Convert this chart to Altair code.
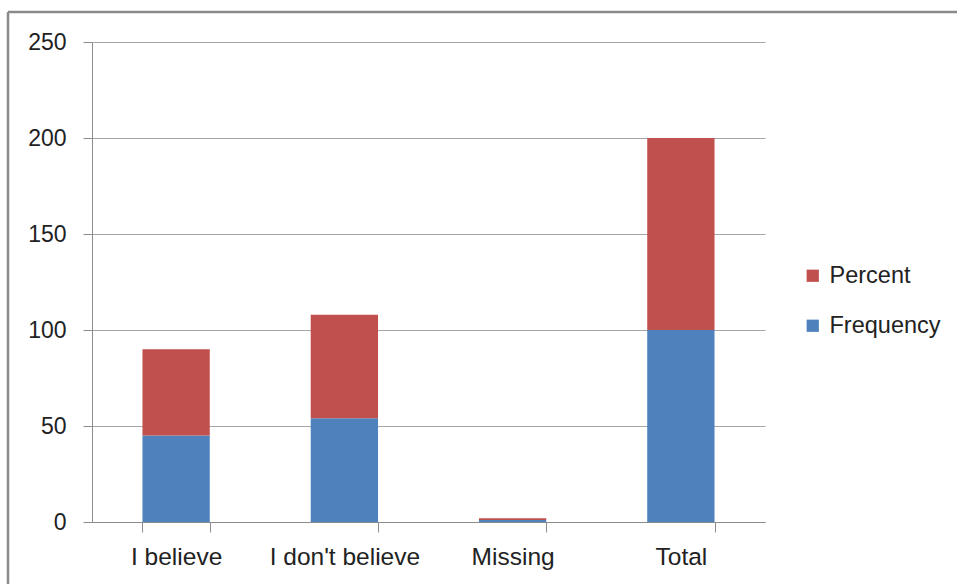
import altair as alt
import pandas as pd

categories = ["I believe", "I don't believe", "Missing", "Total"]
frequency = [45, 54, 1, 100]
percent = [45, 54, 1, 100]
series = ["Percent", "Frequency"]
series_colors = ["#C0504D", "#4F81BD"]
y_ticks = [0, 50, 100, 150, 200, 250]

rows = []
for cat, f, p in zip(categories, frequency, percent):
    rows.append({"category": cat, "series": "Frequency", "value": f, "stack": 0})
    rows.append({"category": cat, "series": "Percent", "value": p, "stack": 1})
df = pd.DataFrame(rows)

FONT = "Liberation Sans"
W, H = 673, 480

bars = alt.Chart(df).mark_bar().encode(
    x=alt.X(
        "category:N",
        sort=categories,
        scale=alt.Scale(paddingInner=0.6, paddingOuter=0.3),
        axis=alt.Axis(
            title=None, labelAngle=0, tickBand="extent", grid=False,
            tickSize=10, labelPadding=13, domainColor="#8c8c8c",
            tickColor="#8c8c8c", labelFontSize=24.5, labelColor="#222",
            labelFont=FONT,
        ),
    ),
    y=alt.Y(
        "value:Q",
        stack="zero",
        scale=alt.Scale(domain=[0, 250], nice=False),
        axis=alt.Axis(
            title=None, values=y_ticks, tickSize=9, labelPadding=17,
            gridColor="#a6a6a6", domainColor="#8c8c8c", tickColor="#8c8c8c",
            labelFontSize=23, labelColor="#222", labelFont=FONT,
        ),
    ),
    color=alt.Color(
        "series:N",
        scale=alt.Scale(domain=series, range=series_colors),
        legend=alt.Legend(
            title=None, orient="none", legendX=709, legendY=222,
            symbolType="square", symbolSize=150, symbolStrokeWidth=0,
            labelFontSize=23.5, labelFont=FONT, labelColor="#222",
            rowPadding=25, labelOffset=5,
        ),
    ),
    order=alt.Order("stack:Q", sort="ascending"),
)

# outer frame (top and left edges)
frame_df = pd.DataFrame({"k": [0]})
top_edge = alt.Chart(frame_df).mark_rule(color="#8a8a8a", strokeWidth=2.5).encode(
    x=alt.value(-84), x2=alt.value(W + 200), y=alt.value(-30)
)
left_edge = alt.Chart(frame_df).mark_rule(color="#8a8a8a", strokeWidth=2.5).encode(
    x=alt.value(-84), y=alt.value(-30), y2=alt.value(H + 70)
)

chart = alt.layer(bars, top_edge, left_edge).properties(
    width=W, height=H,
    autosize=alt.AutoSizeParams(type="none"),
    padding={"left": 92, "top": 42, "right": 192, "bottom": 62},
    background="white",
).configure_view(stroke=None)

chart.save("out.html", embed_options={"renderer": "svg", "actions": False})
